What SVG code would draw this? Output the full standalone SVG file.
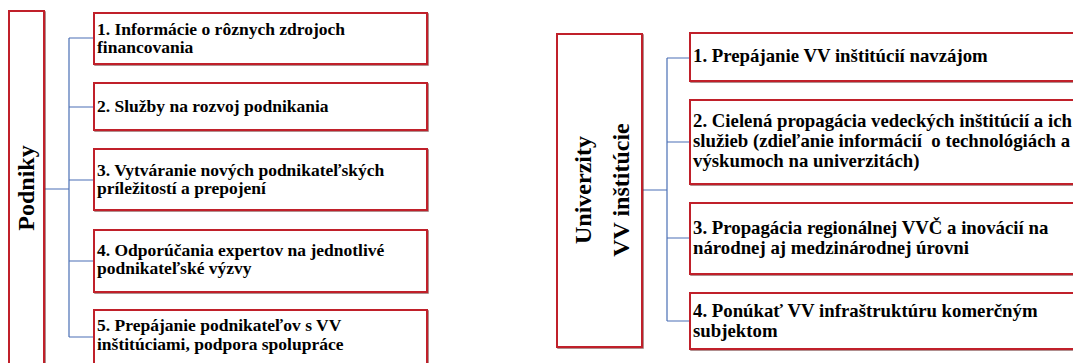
<svg xmlns="http://www.w3.org/2000/svg" width="1073" height="363" viewBox="0 0 1073 363">
<style>
.box{fill:#fff;stroke:#C0202A;stroke-width:2}
.sh{fill:none;stroke:#6b2b2b;stroke-width:1.5;opacity:.7}
.con{fill:none;stroke:#4A6FB5;stroke-width:1.2}
.t{font-family:"Liberation Serif","Times New Roman",serif;font-weight:bold;fill:#000}
.tl{font-size:17.5px}
.tr{font-size:18.8px;white-space:pre}
.big{font-size:24px;text-anchor:middle}
</style>
<rect width="1073" height="363" fill="#fff"/>
<g id="connectors">
<path class="con" d="M44 189H69M69 38V337M69 38H94M69 107H94M69 180H94M69 261H94M69 337H94"/>
<path class="con" d="M642 190H667M667 58V321M667 58H690M667 142H690M667 238H690M667 321H690"/>
</g>
<g id="podniky">
<rect class="sh" x="10" y="12" width="35" height="360"/>
<rect class="box" x="9" y="11" width="35" height="360"/>
<text class="t big" transform="translate(34,188) rotate(-90)">Podniky</text>
</g>
<g id="p1">
<rect class="sh" x="95" y="14" width="333" height="51"/>
<rect class="box" x="94" y="13" width="333" height="51"/>
<text class="t tl" x="97" y="35">1. Informácie o rôznych zdrojoch</text>
<text class="t tl" x="97" y="53">financovania</text>
</g>
<g id="p2">
<rect class="sh" x="95" y="84" width="333" height="47"/>
<rect class="box" x="94" y="83" width="333" height="47"/>
<text class="t tl" x="97" y="112">2. Služby na rozvoj podnikania</text>
</g>
<g id="p3">
<rect class="sh" x="95" y="150" width="333" height="61"/>
<rect class="box" x="94" y="149" width="333" height="61"/>
<text class="t tl" x="97" y="176">3. Vytváranie nových podnikateľských</text>
<text class="t tl" x="97" y="194">príležitostí a prepojení</text>
</g>
<g id="p4">
<rect class="sh" x="95" y="231" width="333" height="62"/>
<rect class="box" x="94" y="230" width="333" height="62"/>
<text class="t tl" x="97" y="256">4. Odporúčania expertov na jednotlivé</text>
<text class="t tl" x="97" y="274">podnikateľské výzvy</text>
</g>
<g id="p5">
<rect class="sh" x="95" y="311" width="333" height="60"/>
<rect class="box" x="94" y="310" width="333" height="60"/>
<text class="t tl" x="97" y="331">5. Prepájanie podnikateľov s VV</text>
<text class="t tl" x="97" y="350">inštitúciami, podpora spolupráce</text>
</g>
<g id="univerzity">
<rect class="sh" x="558" y="35" width="85" height="313"/>
<rect class="box" x="557" y="34" width="85" height="313"/>
<text class="t big" transform="translate(591,190) rotate(-90)">Univerzity</text>
<text class="t big" transform="translate(629,190) rotate(-90)">VV inštitúcie</text>
</g>
<g id="u1">
<rect class="sh" x="691" y="34" width="400" height="48"/>
<rect class="box" x="690" y="33" width="400" height="48"/>
<text class="t tr" x="693" y="62">1. Prepájanie VV inštitúcií navzájom</text>
</g>
<g id="u2">
<rect class="sh" x="691" y="101" width="400" height="84"/>
<rect class="box" x="690" y="100" width="400" height="84"/>
<text class="t tr" x="693" y="127">2. Cielená propagácia vedeckých inštitúcií a ich</text>
<text class="t tr" x="693" y="147">služieb (zdieľanie informácií  o technológiách a</text>
<text class="t tr" x="693" y="167">výskumoch na univerzitách)</text>
</g>
<g id="u3">
<rect class="sh" x="691" y="204" width="400" height="71"/>
<rect class="box" x="690" y="203" width="400" height="71"/>
<text class="t tr" x="693" y="234">3. Propagácia regionálnej VVČ a inovácií na</text>
<text class="t tr" x="693" y="254">národnej aj medzinárodnej úrovni</text>
</g>
<g id="u4">
<rect class="sh" x="691" y="294" width="400" height="56"/>
<rect class="box" x="690" y="293" width="400" height="56"/>
<text class="t tr" x="693" y="317">4. Ponúkať VV infraštruktúru komerčným</text>
<text class="t tr" x="693" y="337">subjektom</text>
</g>
</svg>
